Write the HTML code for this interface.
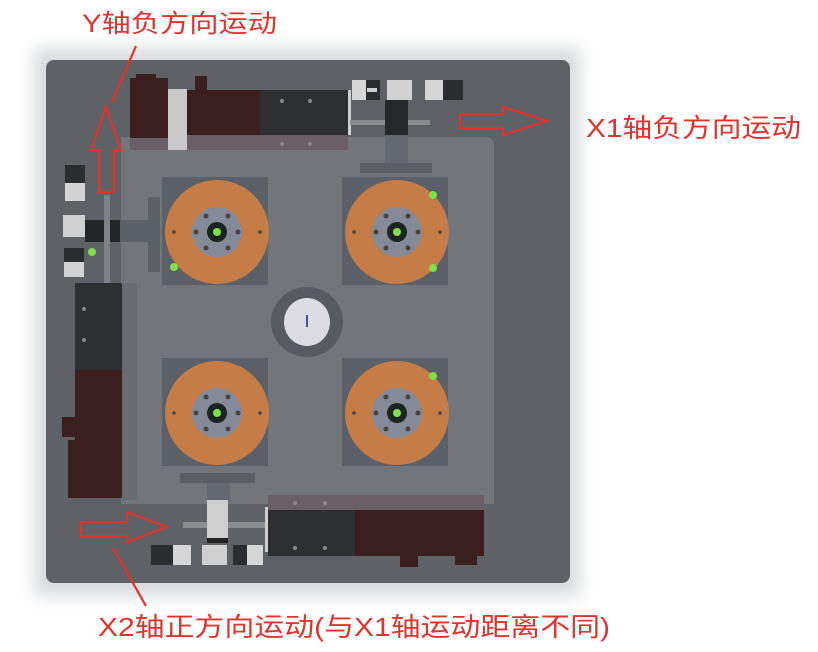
<!DOCTYPE html>
<html><head><meta charset="utf-8"><style>
html,body{margin:0;padding:0;background:#fff;width:818px;height:652px;overflow:hidden}
svg{display:block}
text{font-family:"Liberation Sans","Noto Sans CJK SC",sans-serif;fill:#e2322c}
</style></head><body>
<svg width="818" height="652" viewBox="0 0 818 652" xmlns="http://www.w3.org/2000/svg">
<defs>
<g id="tt">
  <rect x="-55" y="-55" width="106" height="108" fill="#5b6068"/>
  <circle r="52" fill="#c67c46"/>
  <circle r="25" fill="#858a98"/>
  <circle r="10" fill="#1d2320"/>
  <circle r="4" fill="#7ee04a"/>
  <g fill="#4a4240">
    <circle cx="-11" cy="-16" r="2.5"/><circle cx="11" cy="-16" r="2.5"/>
    <circle cx="-21" cy="0" r="2.5"/><circle cx="21" cy="0" r="2.5"/>
    <circle cx="-11" cy="16" r="2.5"/><circle cx="11" cy="16" r="2.5"/>
    <circle cx="-43" cy="0" r="1.8"/><circle cx="43" cy="0" r="1.8"/>
  </g>
</g>
<g id="sensor">
  <rect x="0" y="0" width="28" height="20" fill="#2a2c2f"/>
  <rect x="0" y="0" width="14" height="20" fill="#d6d6d6"/>
  <rect x="15" y="8" width="10" height="4" fill="#cfcfcf"/>
</g>
<filter id="blur" x="-10%" y="-10%" width="120%" height="120%"><feGaussianBlur stdDeviation="8"/></filter>
</defs>

<!-- background halo -->
<rect x="34" y="48" width="546" height="548" fill="#d8dbde" filter="url(#blur)"/>
<!-- plate -->
<rect x="46" y="60" width="524" height="523" rx="8" fill="#5e6165"/>
<!-- inner panel -->
<path d="M121 137 H485 Q494 137 494 146 V504 H121 Z" fill="#72767b"/>

<!-- top module -->
<rect x="130" y="133" width="218" height="17" fill="#6a5f66"/>
<rect x="130" y="78" width="38" height="60" fill="#3b1f1f"/>
<rect x="136" y="74" width="20" height="6" fill="#3b1f1f"/>
<rect x="168" y="89" width="19" height="61" fill="#c9c9cb"/>
<rect x="187" y="90" width="73" height="45" fill="#3b1f1f"/>
<rect x="195" y="76" width="12" height="16" fill="#3b1f1f"/>
<rect x="260" y="90" width="88" height="45" fill="#2d2f31"/>
<circle cx="282" cy="101" r="2" fill="#8a8a8a"/><circle cx="310" cy="101" r="2" fill="#8a8a8a"/>
<circle cx="282" cy="144" r="2" fill="#8a8a8a"/><circle cx="310" cy="144" r="2" fill="#8a8a8a"/>
<rect x="348" y="90" width="3" height="45" fill="#cfcfcf"/>
<rect x="350" y="120" width="80" height="5" fill="#8a8d90"/>
<use href="#sensor" x="352" y="80"/>
<rect x="387" y="80" width="25" height="20" fill="#d3d3d3"/>
<g transform="translate(425,80)"><rect width="38" height="20" fill="#2a2c2f"/><rect width="18" height="20" fill="#d6d6d6"/></g>
<rect x="385" y="100" width="23" height="35" fill="#25272a"/>
<rect x="385" y="135" width="23" height="30" fill="#646870"/>
<rect x="360" y="163" width="72" height="10" fill="#5a5e64"/>

<!-- left sensors & connector -->
<g transform="translate(65,165)"><rect width="20" height="18" fill="#2a2c2f"/><rect x="0" y="18" width="20" height="18" fill="#d3d3d3"/></g>
<rect x="63" y="215" width="22" height="22" fill="#cfcfcf"/>
<rect x="85" y="220" width="35" height="22" fill="#232527"/>
<rect x="120" y="220" width="30" height="22" fill="#5b5f66"/>
<rect x="148" y="197" width="12" height="75" fill="#5b5f66"/>
<g transform="translate(64,248)"><rect width="20" height="14" fill="#2a2c2f"/><rect y="14" width="20" height="15" fill="#d3d3d3"/></g>
<circle cx="92" cy="252" r="4" fill="#7ee04a"/>
<rect x="104" y="195" width="6" height="90" fill="#7f8388"/>

<!-- left module -->
<rect x="75" y="283" width="47" height="87" fill="#2d2f31"/>
<rect x="75" y="370" width="47" height="128" fill="#3b1f1f"/>
<rect x="62" y="417" width="14" height="20" fill="#3b1f1f"/>
<rect x="68" y="440" width="8" height="58" fill="#3b1f1f"/>
<rect x="122" y="283" width="15" height="217" fill="#686c72"/>
<circle cx="84" cy="309" r="2" fill="#8a8a8a"/><circle cx="84" cy="340" r="2" fill="#8a8a8a"/>

<!-- turntables -->
<use href="#tt" x="217" y="232"/>
<use href="#tt" x="397" y="232"/>
<use href="#tt" x="217" y="413"/>
<use href="#tt" x="397" y="413"/>
<circle cx="174" cy="267" r="4" fill="#7ee04a"/>
<circle cx="433" cy="195" r="4" fill="#7ee04a"/>
<circle cx="433" cy="268" r="4" fill="#7ee04a"/>
<circle cx="433" cy="376" r="4" fill="#7ee04a"/>

<!-- center -->
<ellipse cx="307" cy="322" rx="36" ry="35" fill="#575b61"/>
<ellipse cx="307" cy="322" rx="23" ry="24" fill="#dcdce2"/>
<rect x="306" y="315" width="2" height="12" fill="#4a4ab0"/>

<!-- bottom connector -->
<rect x="180" y="473" width="75" height="10" fill="#5a5e64"/>
<rect x="207" y="483" width="23" height="20" fill="#646870"/>
<rect x="183" y="522" width="85" height="6" fill="#8a8d90"/>
<rect x="207" y="500" width="21" height="40" fill="#cfcfcf"/>
<rect x="207" y="538" width="21" height="5" fill="#222"/>
<g transform="translate(151,545)"><rect width="40" height="20" fill="#2a2c2f"/><rect x="22" width="18" height="20" fill="#d6d6d6"/></g>
<rect x="202" y="545" width="25" height="20" fill="#cfcfcf"/>
<g transform="translate(233,545)"><rect width="30" height="20" fill="#2a2c2f"/><rect x="14" width="16" height="20" fill="#d6d6d6"/></g>

<!-- bottom module -->
<rect x="268" y="495" width="216" height="16" fill="#6a5f66"/>
<rect x="268" y="510" width="87" height="46" fill="#2d2f31"/>
<rect x="355" y="510" width="129" height="46" fill="#3b1f1f"/>
<rect x="400" y="555" width="18" height="12" fill="#3b1f1f"/>
<rect x="455" y="555" width="22" height="10" fill="#3b1f1f"/>
<circle cx="295" cy="503" r="2" fill="#8a8a8a"/><circle cx="325" cy="503" r="2" fill="#8a8a8a"/>
<circle cx="295" cy="548" r="2" fill="#8a8a8a"/><circle cx="325" cy="548" r="2" fill="#8a8a8a"/>
<rect x="265" y="507" width="3" height="45" fill="#cfcfcf"/>

<!-- arrows -->
<g fill="none" stroke="#e2322c" stroke-width="2.2" stroke-linejoin="miter">
  <path d="M106 107 L121 150 L114 150 L114 192 L99 192 L99 150 L91 150 Z"/>
  <path d="M460 114 L503 114 L503 107 L547 121 L503 135 L503 128 L460 128 Z"/>
  <path d="M81 522 L127 522 L127 512 L167 527 L127 542 L127 536 L81 536 Z"/>
  <line x1="112" y1="102" x2="136" y2="46"/>
  <line x1="113" y1="548" x2="146" y2="606"/>
</g>

<!-- labels -->
<text x="82" y="32" font-size="25" textLength="195" lengthAdjust="spacingAndGlyphs">Y轴负方向运动</text>
<text x="586" y="137" font-size="26" textLength="215" lengthAdjust="spacingAndGlyphs">X1轴负方向运动</text>
<text x="98" y="636" font-size="26" textLength="512" lengthAdjust="spacingAndGlyphs">X2轴正方向运动(与X1轴运动距离不同)</text>
</svg>
</body></html>
